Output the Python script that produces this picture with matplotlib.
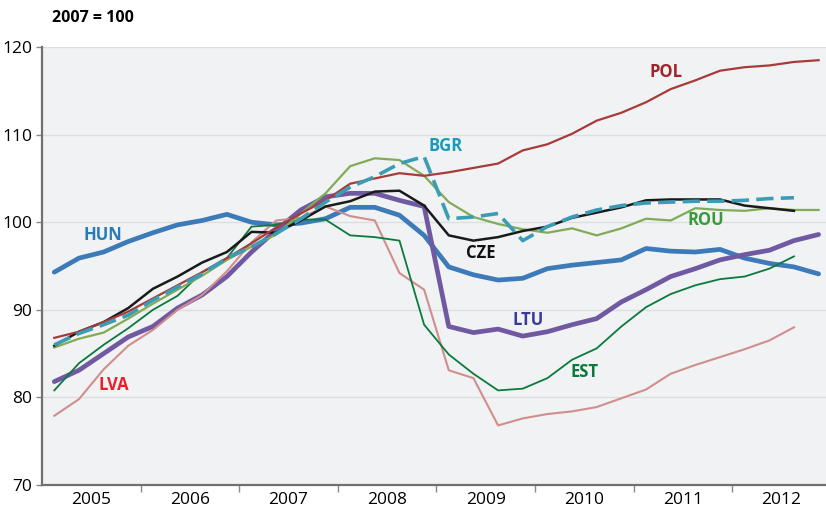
import numpy as np
import matplotlib
matplotlib.use("Agg")
import matplotlib.pyplot as plt

plt.rcParams["font.family"] = ["Open Sans", "DejaVu Sans"]

# quarterly index, 2007 = 100, 2005Q1 .. 2012Q4
quarters = np.arange(2005, 2013, 0.25) + 0.125

hun = [94.3, 95.9, 96.6, 97.8, 98.8, 99.7, 100.2, 100.9,
       100.0, 99.7, 99.9, 100.4, 101.7, 101.7, 100.8, 98.5,
       94.9, 94.0, 93.4, 93.6, 94.7, 95.1, 95.4, 95.7,
       97.0, 96.7, 96.6, 96.9, 95.9, 95.3, 94.9, 94.1]
pol = [86.8, 87.5, 88.6, 89.8, 91.3, 92.8, 94.3, 95.9,
       97.6, 99.4, 101.0, 102.5, 104.4, 105.0, 105.6, 105.3,
       105.7, 106.2, 106.7, 108.2, 108.9, 110.1, 111.6, 112.5,
       113.7, 115.2, 116.2, 117.3, 117.7, 117.9, 118.3, 118.5]
bgr = [86.0, 87.3, 88.3, 89.4, 91.1, 92.6, 94.1, 95.9,
       97.2, 98.7, 100.4, 102.3, 104.0, 105.2, 106.7, 107.5,
       100.4, 100.6, 101.0, 97.9, 99.5, 100.6, 101.4, 101.9,
       102.2, 102.3, 102.4, 102.4, 102.5, 102.7, 102.8]
cze = [85.9, 87.5, 88.6, 90.2, 92.4, 93.8, 95.4, 96.6,
       98.9, 98.8, 100.2, 101.8, 102.4, 103.5, 103.6, 101.9,
       98.5, 97.9, 98.3, 99.0, 99.5, 100.5, 101.1, 101.7,
       102.5, 102.6, 102.6, 102.6, 101.9, 101.6, 101.3]
rou = [85.7, 86.7, 87.4, 89.0, 90.7, 92.3, 93.9, 95.7,
       97.2, 98.6, 101.0, 103.3, 106.4, 107.3, 107.1, 105.3,
       102.3, 100.6, 99.8, 99.2, 98.8, 99.3, 98.5, 99.3,
       100.4, 100.2, 101.6, 101.4, 101.3, 101.6, 101.4, 101.4]
est = [80.8, 83.9, 86.0, 87.9, 90.0, 91.6, 94.3, 95.9,
       99.5, 99.7, 100.3, 100.3, 98.5, 98.3, 97.9, 88.3,
       84.9, 82.7, 80.8, 81.0, 82.2, 84.3, 85.6, 88.1,
       90.3, 91.8, 92.8, 93.5, 93.8, 94.7, 96.1]
ltu = [81.8, 83.1, 85.0, 86.9, 88.1, 90.2, 91.7, 93.8,
       96.6, 99.1, 101.4, 102.9, 103.3, 103.3, 102.5, 101.8,
       88.1, 87.4, 87.8, 87.0, 87.5, 88.3, 89.0, 90.9,
       92.3, 93.8, 94.7, 95.7, 96.3, 96.8, 97.9, 98.6]
lva = [77.9, 79.8, 83.2, 85.9, 87.7, 90.0, 91.7, 94.4,
       97.7, 100.2, 100.5, 101.8, 100.7, 100.2, 94.2, 92.3,
       83.1, 82.2, 76.8, 77.6, 78.1, 78.4, 78.9, 79.9,
       80.9, 82.7, 83.7, 84.6, 85.5, 86.5, 88.0]

year_labels = ["2005", "2006", "2007", "2008", "2009", "2010", "2011", "2012"]

fig = plt.figure(figsize=(8.26, 5.11), dpi=100)
ax = fig.add_axes([0.0508, 0.0509, 0.9492, 0.857])
ax.set_facecolor("#f0f2f4")

def q(vals):
    return quarters[:len(vals)]

ax.plot(q(hun), hun, color="#3d7ab8", lw=3.4, solid_capstyle="round", zorder=3)
ax.plot(q(ltu), ltu, color="#7059a0", lw=3.4, solid_capstyle="round", zorder=3)
ax.plot(q(lva), lva, color="#d08e8c", lw=1.5, zorder=4)
ax.plot(q(est), est, color="#0b7a3c", lw=1.3, zorder=4)
ax.plot(q(rou), rou, color="#82ab55", lw=1.6, zorder=4)
ax.plot(q(cze), cze, color="#1a1a1a", lw=1.8, zorder=5)
ax.plot(q(pol), pol, color="#a83a3a", lw=1.6, zorder=5)
ax.plot(q(bgr), bgr, color="#3a9db5", lw=2.6, dashes=(4.8, 2), zorder=6)

# country labels
labels = [
    ("HUN", 2005.62, 98.5, "#2a7ab8"),
    ("LVA", 2005.73, 81.4, "#e8202a"),
    ("POL", 2011.33, 117.1, "#a0232a"),
    ("BGR", 2009.09, 108.7, "#1a9ab8"),
    ("ROU", 2011.73, 100.2, "#3a9a3a"),
    ("CZE", 2009.45, 96.5, "#111111"),
    ("LTU", 2009.93, 88.8, "#3a3a9a"),
    ("EST", 2010.50, 82.9, "#0a7a3a"),
]
for name, x, y, c in labels:
    ax.text(x, y, name, color=c, fontsize=12, fontweight="bold",
            ha="center", va="center", zorder=7)

ax.set_xlim(2005, 2012.95)
ax.set_ylim(70, 120)
ax.set_yticks(range(70, 121, 10))
ax.yaxis.grid(True, color="#dddee0", lw=1)
ax.set_axisbelow(True)

ax.set_xticks(range(2006, 2013))
ax.set_xticklabels([])
ax.set_xticks(np.arange(2005.5, 2013, 1), minor=True)
ax.set_xticklabels(year_labels, minor=True)
ax.tick_params(axis="x", which="major", length=5, color="#888888", width=1)
ax.tick_params(axis="x", which="minor", length=0, pad=5, labelsize=12.5)
ax.tick_params(axis="y", length=4, color="#888888", width=1, labelsize=12.5, pad=3)

for s in ["top", "right"]:
    ax.spines[s].set_visible(False)
ax.spines["left"].set_color("#707070")
ax.spines["left"].set_linewidth(1.6)
ax.spines["bottom"].set_color("#707070")
ax.spines["bottom"].set_linewidth(1.6)

fig.text(0.063, 0.965, "2007 = 100", fontsize=11.5, fontweight="bold", va="center")

fig.savefig("out.png", dpi=100)
